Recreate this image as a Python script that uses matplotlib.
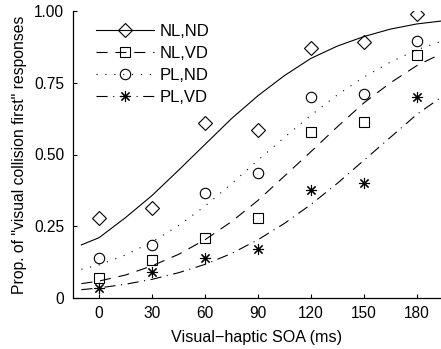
import matplotlib
matplotlib.use('Agg')
import matplotlib.pyplot as plt

plt.rcParams['font.family'] = ['Liberation Sans', 'DejaVu Sans']

# Measured proportions at each SOA
soa = [0, 30, 60, 90, 120, 150, 180]
nl_nd = [0.279, 0.314, 0.610, 0.585, 0.871, 0.892, 0.990]
nl_vd = [0.070, 0.132, 0.209, 0.279, 0.578, 0.613, 0.845]
pl_nd = [0.139, 0.185, 0.366, 0.435, 0.700, 0.710, 0.897]
pl_vd = [0.035, 0.092, 0.139, 0.170, 0.376, 0.400, 0.700]

# Fitted psychometric curves
fit_x = [-10, 0, 15, 30, 45, 60, 75, 90, 105, 120, 135, 150, 165, 180, 195]
fit_nl_nd = [0.185, 0.21, 0.28, 0.357, 0.445, 0.535, 0.625, 0.705, 0.775,
             0.835, 0.878, 0.911, 0.937, 0.955, 0.966]
fit_nl_vd = [0.050, 0.059, 0.080, 0.112, 0.152, 0.203, 0.266, 0.340, 0.425,
             0.510, 0.597, 0.680, 0.750, 0.810, 0.855]
fit_pl_nd = [0.100, 0.115, 0.150, 0.195, 0.252, 0.320, 0.398, 0.480, 0.560,
             0.637, 0.708, 0.770, 0.822, 0.865, 0.897]
fit_pl_vd = [0.029, 0.035, 0.048, 0.065, 0.088, 0.117, 0.155, 0.203, 0.260,
             0.326, 0.400, 0.480, 0.560, 0.640, 0.705]

labels = ['NL,ND', 'NL,VD', 'PL,ND', 'PL,VD']

fig = plt.figure(figsize=(4.41, 3.49), dpi=100)
ax = fig.add_axes([72.5 / 441, 51 / 349, 1 - 72.5 / 441, 287 / 349])

styles = [
    dict(ls='-', marker='D', ms=7.3),
    dict(ls=(0, (10, 7)), marker='s', ms=6.5),
    dict(ls=(0, (1, 7)), marker='o', ms=7.5),
    dict(ls=(0, (10, 5, 1, 5)), marker=(8, 2, 0), ms=8),
]
data = [nl_nd, nl_vd, pl_nd, pl_vd]
fits = [fit_nl_nd, fit_nl_vd, fit_pl_nd, fit_pl_vd]

handles = []
for ys, fy, st, lab in zip(data, fits, styles, labels):
    ax.plot(fit_x, fy, color='black', lw=0.8, ls=st['ls'])
    ax.plot(soa, ys, ls='none', marker=st['marker'], ms=st['ms'],
            mfc='none', mec='black', mew=0.8)
    h, = ax.plot([], [], color='black', lw=0.8, ls=st['ls'],
                 marker=st['marker'], ms=st['ms'], mfc='none',
                 mec='black', mew=0.8)
    handles.append(h)

ax.set_xlim(-15, 193.6)
ax.set_ylim(0, 1)
ax.set_xticks(soa)
ax.set_yticks([0, 0.25, 0.5, 0.75, 1.0])
ax.set_yticklabels(['0', '0.25', '0.50', '0.75', '1.00'])
ax.tick_params(direction='in', length=3, width=0.8, labelsize=11.2, pad=6)
ax.spines[['top', 'right']].set_visible(False)
for s in ['left', 'bottom']:
    ax.spines[s].set_linewidth(0.9)

ax.set_xlabel('Visual\u2212haptic SOA (ms)', fontsize=11.6, labelpad=6)
ax.set_ylabel('Prop. of "visual collision first" responses', fontsize=11.3,
              labelpad=5)

ax.legend(handles, labels, loc='upper left', bbox_to_anchor=(0.064, 0.955),
          frameon=False, fontsize=12, handlelength=3.5, handletextpad=0.3,
          labelspacing=0.42, borderpad=0, borderaxespad=0)

fig.savefig('out.png', dpi=100)
